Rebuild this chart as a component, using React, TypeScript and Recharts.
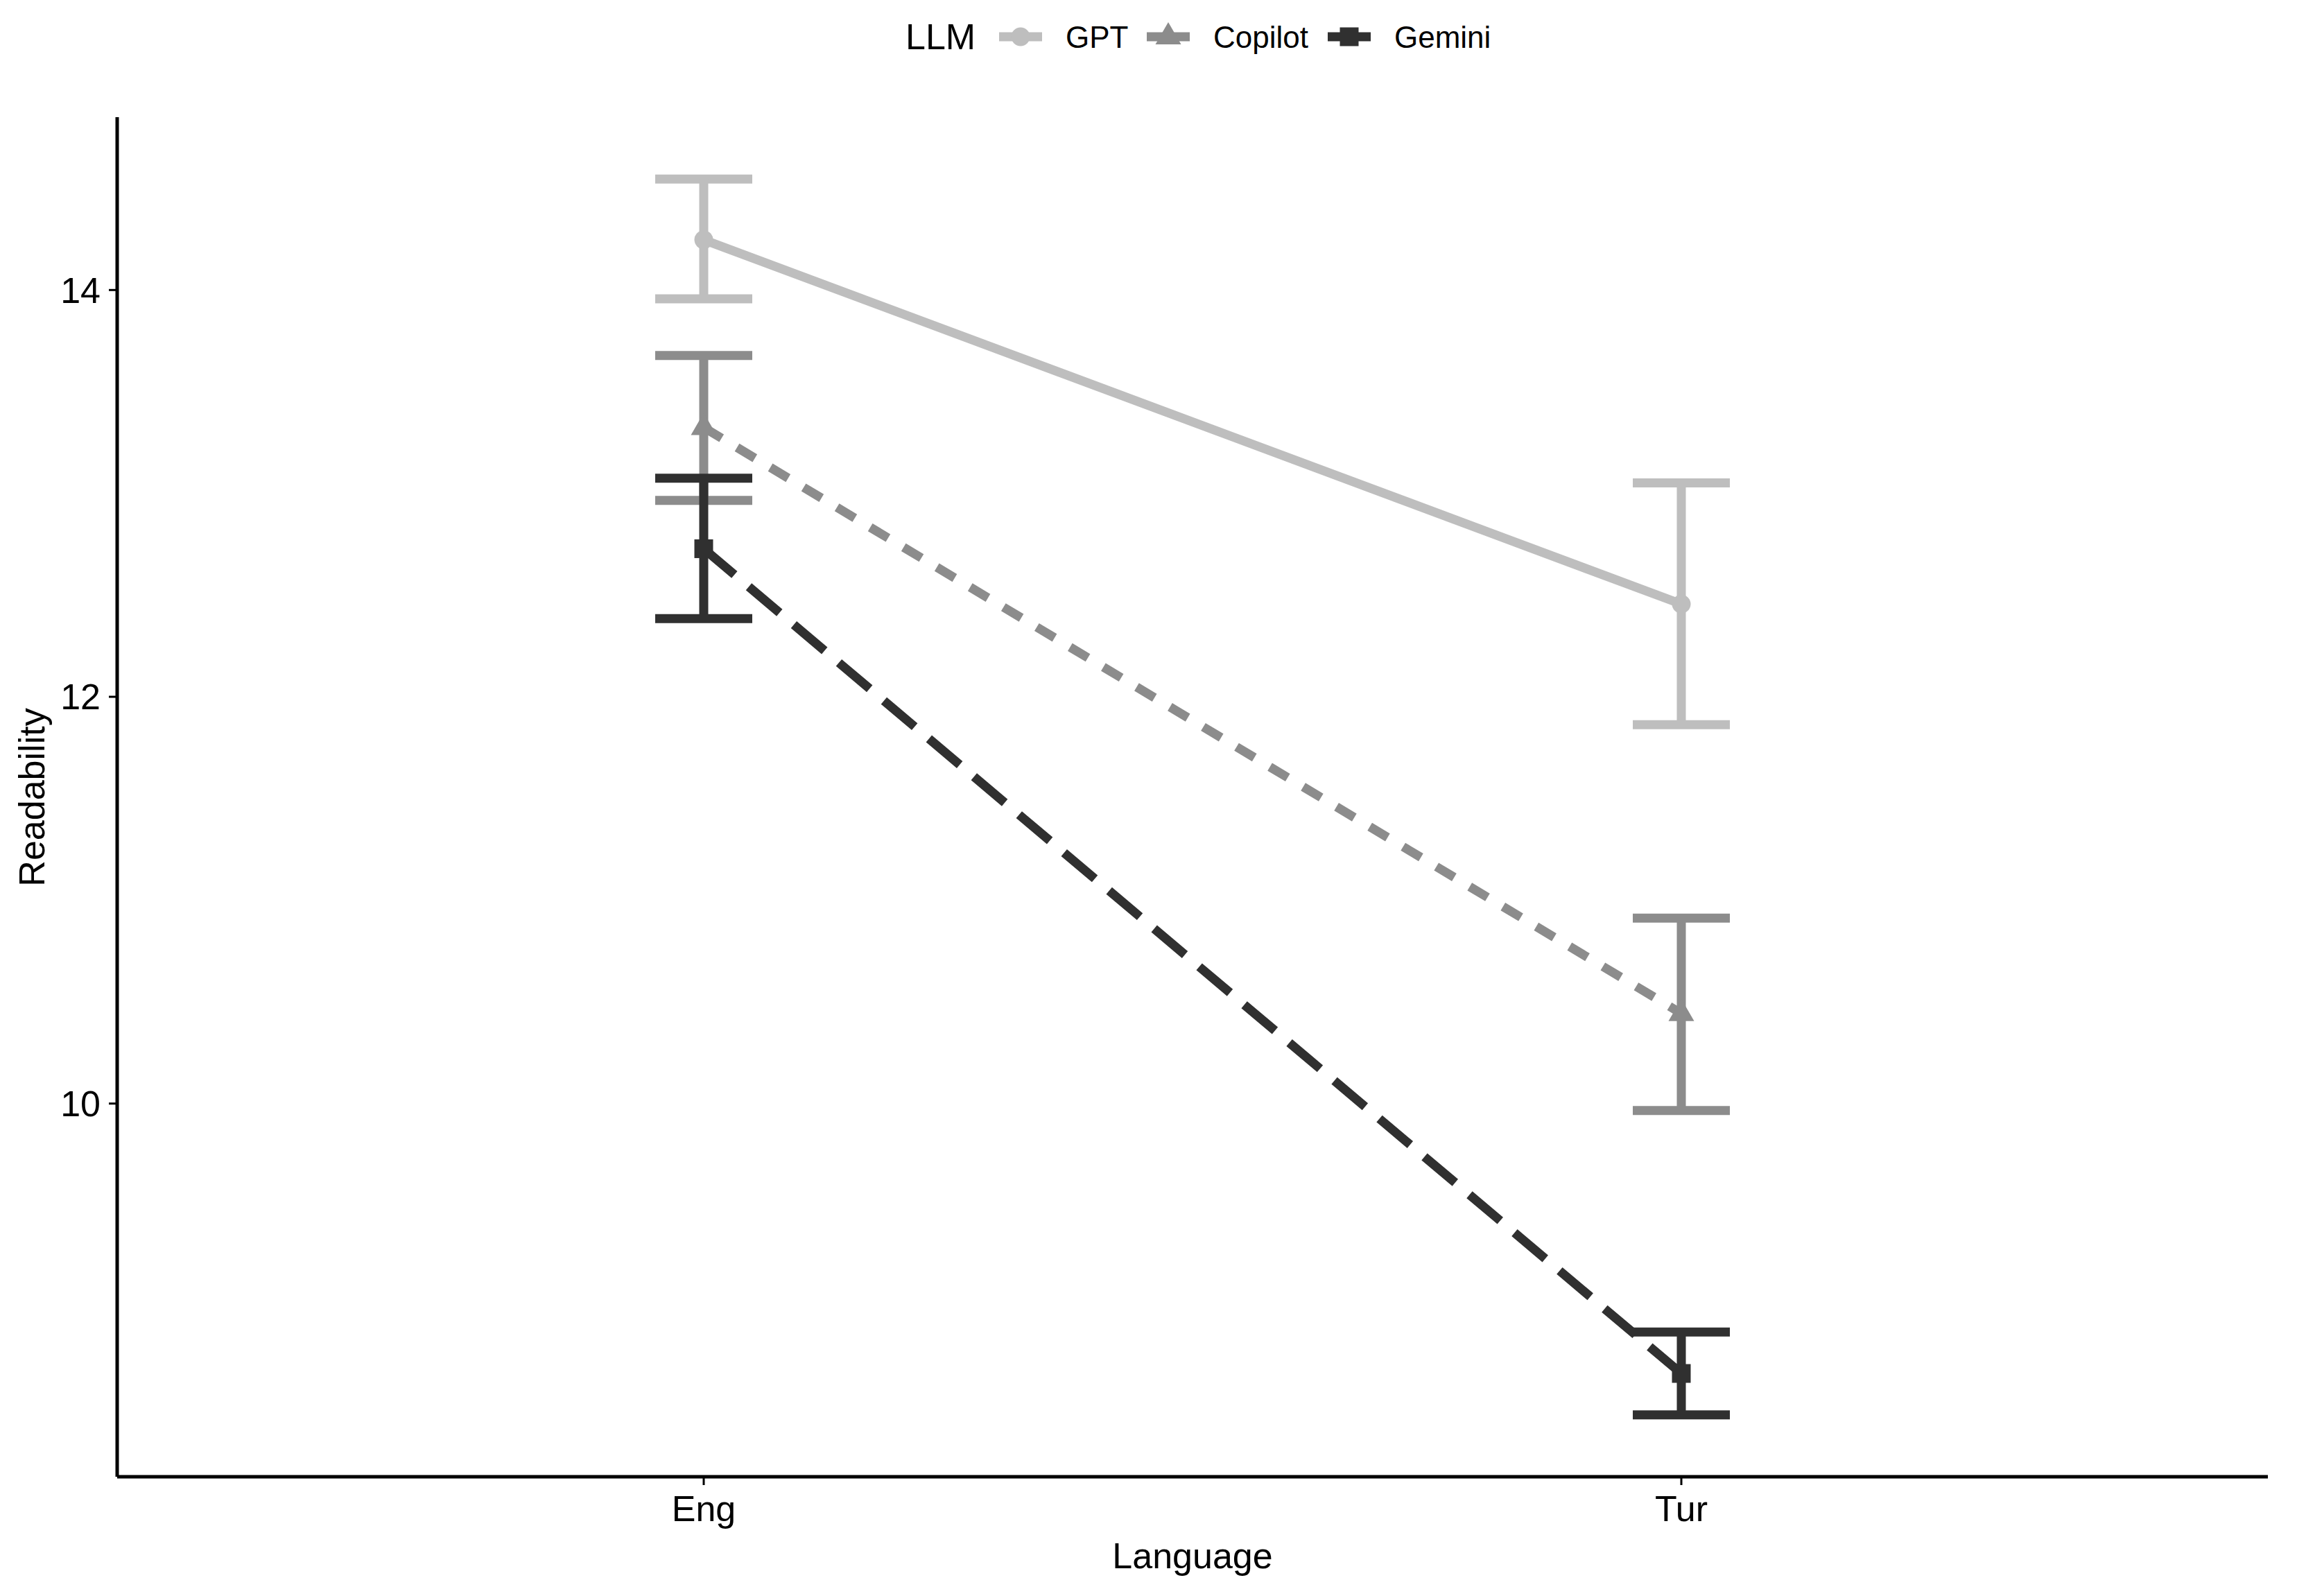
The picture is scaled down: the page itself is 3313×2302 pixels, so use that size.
import React from 'react';
import { ComposedChart, Line, XAxis, YAxis, ErrorBar, Label } from 'recharts';

// ---------- data ----------
const languages = ['Eng', 'Tur'];
const llms = ['GPT', 'Copilot', 'Gemini'];

const gptMean = [14.247, 12.456];
const gptLow = [13.957, 11.863];
const gptHigh = [14.546, 13.052];

const copilotMean = [13.324, 10.443];
const copilotLow = [12.966, 9.966];
const copilotHigh = [13.678, 10.912];

const geminiMean = [12.728, 8.673];
const geminiLow = [12.384, 8.469];
const geminiHigh = [13.075, 8.877];

const yTicks = [10, 12, 14];

// ---------- styles ----------
const W = 3313;
const H = 2302;
const FONT = '"Liberation Sans", Arial, Helvetica, sans-serif';
const colors = { GPT: '#BEBEBE', Copilot: '#8C8C8C', Gemini: '#303030' };
const dashes = { GPT: undefined, Copilot: '30 26', Gemini: '58 27' };
const LW = 13;

const data = languages.map((lang, i) => ({
  x: i + 1,
  lang,
  GPT: gptMean[i],
  GPTerr: [gptMean[i] - gptLow[i], gptHigh[i] - gptMean[i]],
  Copilot: copilotMean[i],
  Copiloterr: [copilotMean[i] - copilotLow[i], copilotHigh[i] - copilotMean[i]],
  Gemini: geminiMean[i],
  Geminierr: [geminiMean[i] - geminiLow[i], geminiHigh[i] - geminiMean[i]],
}));

const allVals = [...gptLow, ...gptHigh, ...copilotLow, ...copilotHigh, ...geminiLow, ...geminiHigh];
const vMin = Math.min(...allVals);
const vMax = Math.max(...allVals);
const vPad = (vMax - vMin) * 0.05;
const yDomain = [vMin - vPad, vMax + vPad];

function Marker({ name, cx, cy }: { name: string; cx: number; cy: number }) {
  const c = colors[name as keyof typeof colors];
  if (name === 'GPT') return <circle cx={cx} cy={cy} r={13.5} fill={c} />;
  if (name === 'Copilot')
    return (
      <polygon
        points={`${cx},${cy - 21} ${cx - 18.5},${cy + 11} ${cx + 18.5},${cy + 11}`}
        fill={c}
      />
    );
  return <rect x={cx - 13.5} y={cy - 13.5} width={27} height={27} fill={c} />;
}

const makeDot = (name: string) => (props: any) => {
  const { cx, cy, index } = props;
  if (cx == null || cy == null) return <g key={`${name}-${index}`} />;
  return (
    <g key={`${name}-${index}`}>
      <Marker name={name} cx={cx} cy={cy} />
    </g>
  );
};

function LegendOverlay() {
  const cy = 53;
  const items = [
    { name: 'GPT', keyX: 1441, textX: 1537 },
    { name: 'Copilot', keyX: 1654, textX: 1750 },
    { name: 'Gemini', keyX: 1915, textX: 2011 },
  ];
  return (
    <svg
      width={W}
      height={110}
      style={{ position: 'absolute', left: 0, top: 0 }}
    >
      <text x={1306} y={cy} dominantBaseline="central" fontSize={52} fontFamily={FONT} fill="#000">
        LLM
      </text>
      {items.map((it) => (
        <g key={it.name}>
          <line
            x1={it.keyX}
            x2={it.keyX + 62}
            y1={cy}
            y2={cy}
            stroke={colors[it.name as keyof typeof colors]}
            strokeWidth={LW}
          />
          <Marker name={it.name} cx={it.keyX + 31} cy={cy} />
          <text x={it.textX} y={cy} dominantBaseline="central" fontSize={44} fontFamily={FONT} fill="#000">
            {it.name}
          </text>
        </g>
      ))}
    </svg>
  );
}

export default function App() {
  return (
    <div style={{ position: 'absolute', left: 0, top: 0, width: W, height: H, background: '#fff' }}>
      <ComposedChart
        width={W}
        height={H}
        data={data}
        margin={{ top: 169, right: 42, bottom: 0, left: 0 }}
      >
        <XAxis
          dataKey="x"
          type="number"
          domain={[0.4, 2.6]}
          ticks={[1, 2]}
          tickFormatter={(v: number) => languages[Math.round(v) - 1] ?? ''}
          height={172}
          axisLine={{ stroke: '#000', strokeWidth: 5 }}
          tickLine={{ stroke: '#000', strokeWidth: 3 }}
          tickSize={12}
          tickMargin={15}
          tick={{ fontSize: 52, fill: '#000', fontFamily: FONT }}
          allowDataOverflow
        >
          <Label
            content={() => (
              <text x={1720} y={2244} textAnchor="middle" dominantBaseline="central" fontSize={52} fontFamily={FONT} fill="#000">
                Language
              </text>
            )}
          />
        </XAxis>
        <YAxis
          type="number"
          domain={yDomain}
          ticks={yTicks}
          width={169}
          axisLine={{ stroke: '#000', strokeWidth: 5 }}
          tickLine={{ stroke: '#000', strokeWidth: 3 }}
          tickSize={12}
          tickMargin={12}
          tick={{ fontSize: 52, fill: '#000', fontFamily: FONT }}
          allowDataOverflow
        >
          <Label
            content={() => (
              <text
                x={46}
                y={1150}
                textAnchor="middle"
                dominantBaseline="central"
                fontSize={52}
                fontFamily={FONT}
                fill="#000"
                transform="rotate(-90 46 1150)"
              >
                Readability
              </text>
            )}
          />
        </YAxis>
        {llms.map((name) => (
          <Line
            key={name}
            dataKey={name}
            type="linear"
            stroke={colors[name as keyof typeof colors]}
            strokeWidth={LW}
            strokeDasharray={dashes[name as keyof typeof dashes]}
            dot={makeDot(name)}
            activeDot={false}
            isAnimationActive={false}
            legendType="none"
          >
            <ErrorBar
              dataKey={`${name}err`}
              direction="y"
              width={70}
              strokeWidth={LW}
              stroke={colors[name as keyof typeof colors]}
              isAnimationActive={false}
            />
          </Line>
        ))}
      </ComposedChart>
      <LegendOverlay />
    </div>
  );
}
